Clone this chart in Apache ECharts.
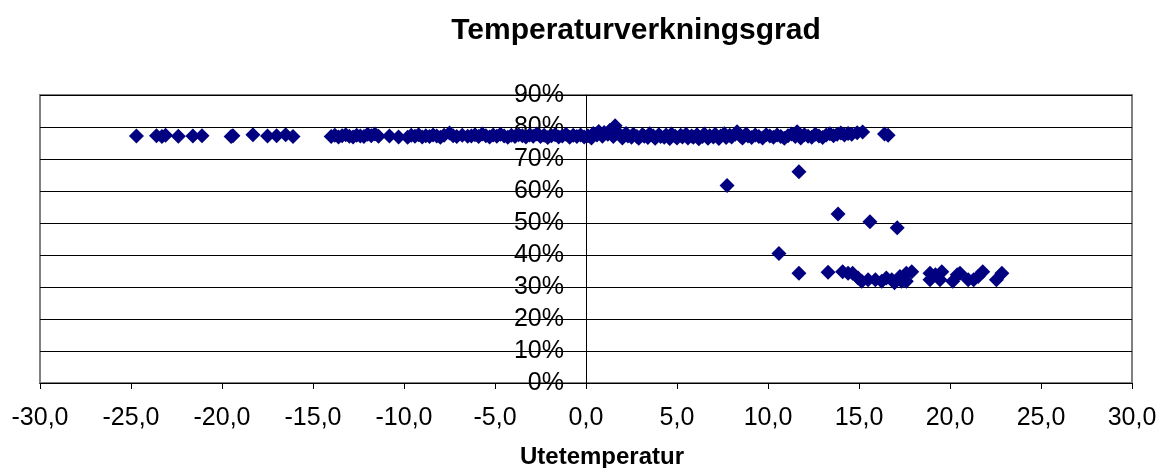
<!DOCTYPE html>
<html>
<head>
<meta charset="utf-8">
<script src="https://cdn.jsdelivr.net/npm/echarts@6/dist/echarts.min.js"></script>
<style>html,body{margin:0;padding:0;background:#fff}#c{width:1164px;height:468px}</style>
</head>
<body>
<div id="c"></div>
<script>
// Tick labels
const xTicks = [-30, -25, -20, -15, -10, -5, 0, 5, 10, 15, 20, 25, 30];
const yTicks = [0, 10, 20, 30, 40, 50, 60, 70, 80, 90];

// Cold, sparse points (Utetemperatur, Verkningsgrad %)
const kallTemp = [-24.7, -23.6, -23.3, -23.1, -22.4, -21.6, -21.1, -19.5, -19.4, -18.3, -17.5, -17.0, -16.5, -16.1];
const kallEff  = [77.2, 77.3, 77.0, 77.4, 77.1, 77.2, 77.3, 77.0, 77.3, 77.6, 77.2, 77.3, 77.6, 77.0];

// Dense band
const bandTemp = [-14.0,-13.8,-13.6,-13.4,-13.2,-13.0,-12.8,-12.6,-12.4,-12.2,-12.0,-11.8,-11.6,-11.4,-10.8,-10.3,
  -9.8,-9.6,-9.4,-9.2,-9.0,-8.8,-8.6,-8.4,-8.2,-8.0,-7.8,-7.5,-7.3,-7.1,-6.8,-6.5,
  -6.3,-6.1,-5.9,-5.7,-5.5,-5.3,-5.1,-4.9,-4.7,-4.5,-4.3,-4.1,-3.9,-3.7,-3.5,-3.3,-3.1,-2.9,-2.7,-2.5,-2.3,-2.1,-1.9,-1.7,-1.5,-1.3,-1.1,-0.9,-0.7,-0.5,-0.3,-0.1,
  0.1,0.3,0.4,0.6,0.7,0.9,1.0,1.2,1.3,1.5,1.6,1.7,1.9,2.0,2.2,2.3,2.5,2.6,2.8,2.9,3.1,3.2,3.4,3.5,3.7,3.8,4.0,4.1,4.3,4.4,4.6,4.7,4.9,5.0,
  5.2,5.3,5.5,5.6,5.8,5.9,6.1,6.2,6.4,6.5,6.7,6.8,7.0,7.1,7.3,7.4,7.6,7.7,7.9,8.0,8.2,8.3,8.5,8.6,8.8,8.9,9.1,9.3,9.5,9.7,9.9,
  10.1,10.3,10.5,10.7,10.9,11.1,11.3,11.5,11.6,11.8,12.0,12.2,12.4,12.6,12.8,13.0,13.2,13.4,13.6,13.8,14.0,14.2,14.4,14.6,14.9,15.2,16.4,16.6];
const bandEff = [77.0,77.4,76.9,77.3,77.6,77.1,76.9,77.4,77.2,77.0,77.7,77.3,77.8,77.1,77.2,76.9,
  76.8,77.4,77.1,77.6,76.9,77.3,77.0,77.5,77.2,76.8,77.4,78.1,77.3,77.0,77.4,77.1,
  77.2,77.6,77.0,77.8,77.3,76.9,77.5,77.1,77.7,77.2,76.8,77.4,77.0,77.6,77.3,76.9,77.5,77.1,77.8,77.0,77.4,76.7,77.3,77.6,76.9,77.2,77.7,76.8,77.4,77.0,77.5,76.9,
  77.3,76.6,78.0,77.5,78.6,77.1,78.3,77.7,78.9,77.0,80.4,78.2,77.4,76.6,78.0,77.2,76.8,77.7,77.0,76.5,77.6,77.1,76.7,77.9,77.2,76.5,77.6,77.0,76.8,77.5,76.4,77.8,77.1,76.6,
  77.4,76.9,77.7,76.6,77.2,76.8,77.6,76.3,77.0,77.8,76.5,77.3,76.9,77.7,76.4,77.2,77.9,76.7,77.4,76.9,77.7,78.5,77.1,76.6,77.8,77.2,76.7,77.5,77.0,76.6,77.6,
  77.2,76.8,77.5,77.0,76.5,77.3,77.8,77.0,78.5,76.6,77.6,77.1,76.8,77.7,77.2,76.7,77.5,77.9,77.3,77.7,78.1,77.5,78.0,77.7,78.2,78.4,77.8,77.4];

// Transition outliers
const overgangTemp = [7.75, 11.7, 13.85, 15.6, 17.1, 10.6];
const overgangEff  = [61.7, 66.0, 52.8, 50.4, 48.5, 40.5];

// Low cluster
const lagTemp = [11.7, 13.3, 14.1, 14.4, 14.65, 14.95, 15.15, 15.5, 15.9, 16.25, 16.5, 16.8, 16.95, 17.25, 17.35, 17.6, 17.9, 17.6,
  18.9, 18.9, 19.2, 19.55, 19.45, 20.15, 20.4, 20.55, 21.0, 21.3, 21.55, 21.8, 22.55, 22.85];
const lagEff  = [34.3, 34.6, 34.8, 34.3, 34.3, 32.8, 31.8, 32.3, 32.3, 31.8, 32.8, 32.3, 31.3, 33.3, 31.8, 34.3, 34.8, 31.8,
  34.3, 32.3, 33.8, 34.8, 32.3, 31.8, 33.8, 34.3, 32.3, 32.3, 33.3, 34.8, 32.3, 34.3];

function pairs(xs, ys) { return xs.map((x, i) => [x, ys[i]]); }
const allData = [].concat(pairs(kallTemp, kallEff), pairs(bandTemp, bandEff), pairs(overgangTemp, overgangEff), pairs(lagTemp, lagEff));

const gridLeft = 40, gridRight = 32;
const plotW = 1164 - gridLeft - gridRight;
const zeroOffset = plotW * (0 - xTicks[0]) / (xTicks[xTicks.length - 1] - xTicks[0]);

const chart = echarts.init(document.getElementById('c'), null, {renderer: 'canvas'});
const font = '"Liberation Sans", Arial, sans-serif';
chart.setOption({
  animation: false,
  backgroundColor: '#fff',
  title: {
    text: 'Temperaturverkningsgrad',
    left: 631, top: 11, textAlign: 'center',
    textStyle: {fontFamily: font, fontWeight: 'bold', fontSize: 30, color: '#000'}
  },
  grid: {left: gridLeft, right: gridRight, top: 95, bottom: 85, show: true, borderColor: '#808080', borderWidth: 2,
    backgroundColor: '#fff', containLabel: false, outerBoundsMode: 'none'},
  xAxis: {
    type: 'value', min: xTicks[0], max: xTicks[xTicks.length - 1], interval: 5,
    name: 'Utetemperatur', nameLocation: 'middle', nameGap: 62,
    nameTextStyle: {fontFamily: font, fontWeight: 'bold', fontSize: 24, color: '#000', padding: [0, 0, 0, 32]},
    axisLine: {show: true, onZero: false, lineStyle: {color: '#000', width: 1}},
    axisTick: {show: true, length: 6, lineStyle: {color: '#000'}},
    axisLabel: {fontFamily: font, fontSize: 25, color: '#000', margin: 23,
      formatter: v => v.toFixed(1).replace('.', ',')},
    splitLine: {show: false}
  },
  yAxis: {
    type: 'value', min: yTicks[0], max: yTicks[yTicks.length - 1], interval: 10,
    position: 'left', offset: -zeroOffset,
    axisLine: {show: true, onZero: false, lineStyle: {color: '#000', width: 1}},
    axisTick: {show: true, length: 6, lineStyle: {color: '#000'}},
    axisLabel: {fontFamily: font, fontSize: 25, color: '#000', margin: 22, formatter: v => v + '%'},
    splitLine: {show: true, lineStyle: {color: '#000', width: 1}}
  },
  series: [{
    type: 'scatter',
    symbol: 'diamond',
    symbolSize: 15,
    itemStyle: {color: '#000080', opacity: 1},
    data: allData
  }]
});
</script>
</body>
</html>
